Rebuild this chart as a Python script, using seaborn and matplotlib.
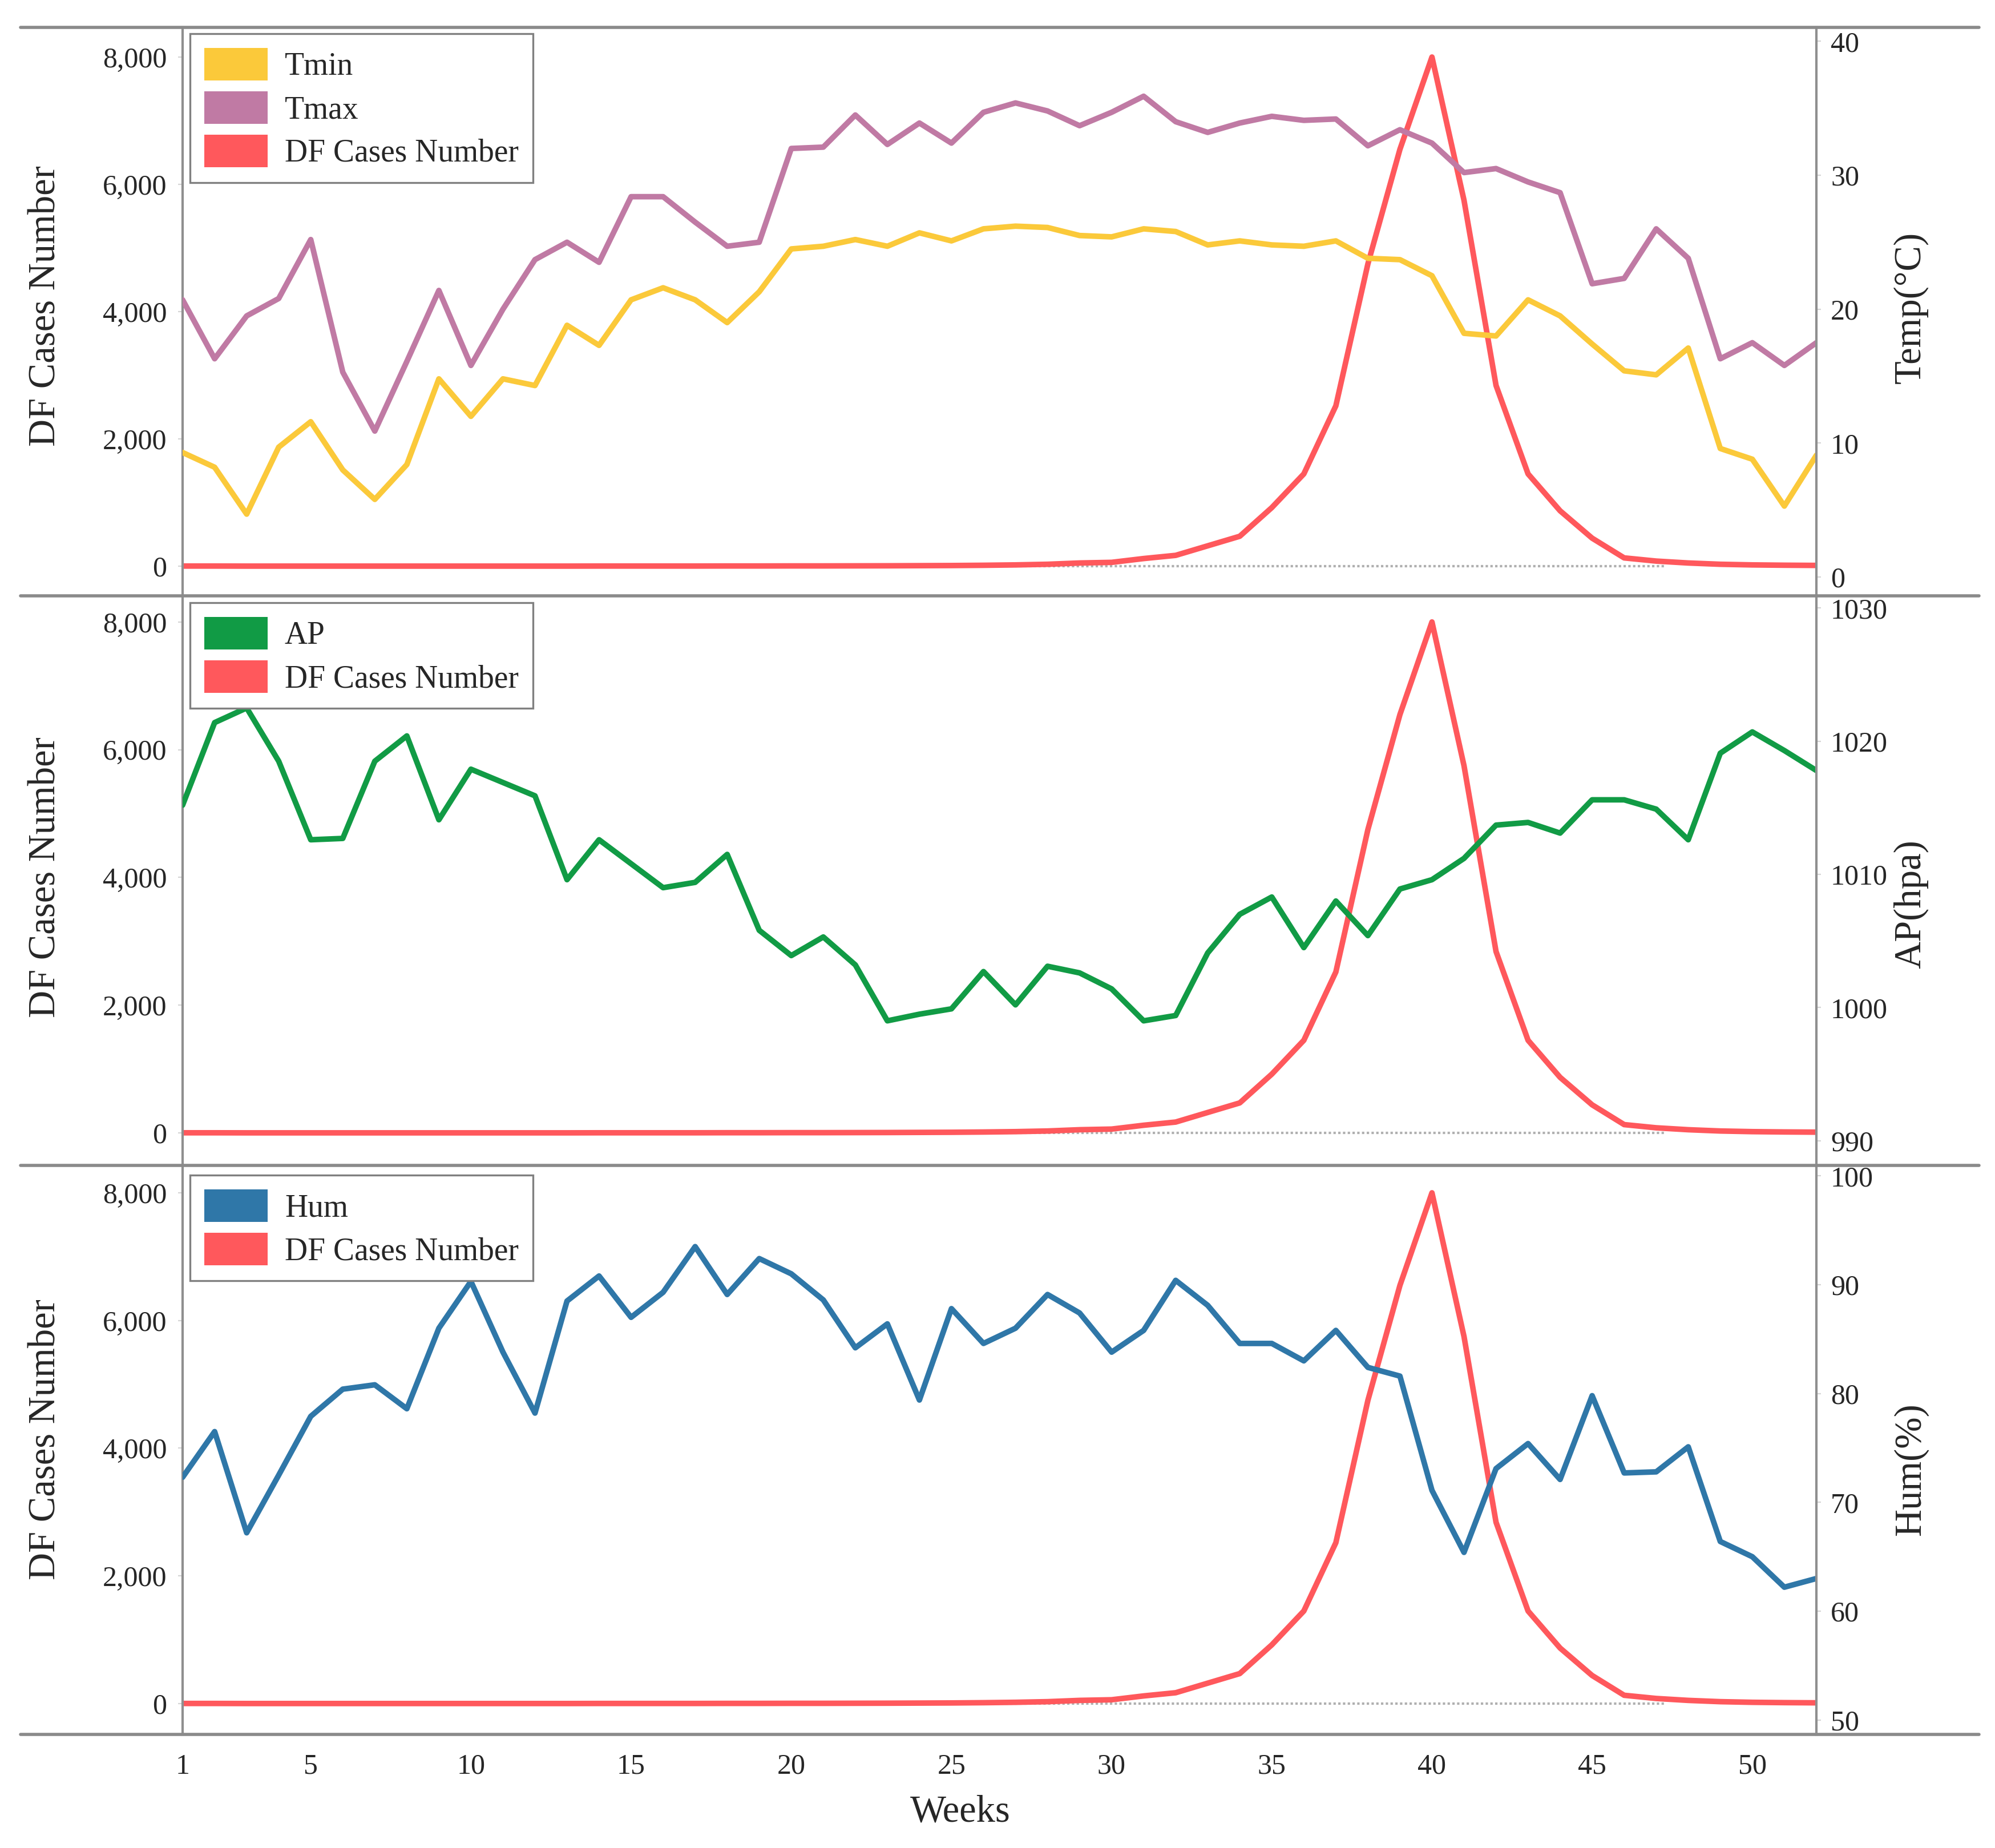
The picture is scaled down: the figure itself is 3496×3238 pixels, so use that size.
import matplotlib
matplotlib.use("Agg")
import matplotlib.pyplot as plt
import seaborn as sns
from matplotlib.patches import Patch
from matplotlib.lines import Line2D
from matplotlib.ticker import FuncFormatter

sns.set_style("white")
plt.rcParams['font.family'] = ['Liberation Serif', 'DejaVu Serif']

# weekly data
weeks = list(range(1, 53))
df_cases = [2, 2, 1, 1, 1, 1, 1, 1, 1, 1, 1, 1, 1, 2, 2, 2, 2, 3, 3, 4,
            4, 5, 6, 8, 10, 14, 20, 30, 50, 60, 120, 170, 320, 470, 920, 1450,
            2520, 4750, 6550, 8000, 5750, 2840, 1450, 870, 440, 130, 80, 50, 30, 20,
            15, 12]
tmin = [9.3, 8.2, 4.7, 9.7, 11.6, 8.0, 5.8, 8.4, 14.8, 12.0, 14.8, 14.3, 18.8,
        17.3, 20.7, 21.6, 20.7, 19.0, 21.3, 24.5, 24.7, 25.2, 24.7, 25.7, 25.1,
        26.0, 26.2, 26.1, 25.5, 25.4, 26.0, 25.8, 24.8, 25.1, 24.8, 24.7, 25.1,
        23.8, 23.7, 22.5, 18.2, 18.0, 20.7, 19.5, 17.4, 15.4, 15.1, 17.1, 9.6,
        8.8, 5.3, 9.1]
tmax = [20.7, 16.3, 19.5, 20.8, 25.2, 15.3, 10.9, 16.1, 21.4, 15.8, 20.0, 23.7,
        25.0, 23.5, 28.4, 28.4, 26.5, 24.7, 25.0, 32.0, 32.1, 34.5, 32.3, 33.9,
        32.4, 34.7, 35.4, 34.8, 33.7, 34.7, 35.9, 34.0, 33.2, 33.9, 34.4, 34.1,
        34.2, 32.2, 33.4, 32.4, 30.2, 30.5, 29.5, 28.7, 21.9, 22.3, 26.0, 23.8,
        16.3, 17.5, 15.8, 17.5]
ap = [1015.2, 1021.4, 1022.5, 1018.5, 1012.6, 1012.7, 1018.5, 1020.4, 1014.1,
      1017.9, 1016.9, 1015.9, 1009.6, 1012.6, 1010.8, 1009.0, 1009.4, 1011.5,
      1005.8, 1003.9, 1005.3, 1003.2, 999.0, 999.5, 999.9, 1002.7, 1000.2,
      1003.1, 1002.6, 1001.4, 999.0, 999.4, 1004.1, 1007.0, 1008.3, 1004.5,
      1008.0, 1005.4, 1008.9, 1009.6, 1011.2, 1013.7, 1013.9, 1013.1, 1015.6,
      1015.6, 1014.9, 1012.6, 1019.1, 1020.7, 1019.3, 1017.8]
hum = [72.3, 76.5, 67.2, 72.5, 77.9, 80.4, 80.8, 78.6, 86.0, 90.3, 83.8, 78.2,
       88.5, 90.8, 87.0, 89.3, 93.5, 89.1, 92.4, 91.0, 88.6, 84.2, 86.4, 79.4,
       87.8, 84.6, 86.0, 89.1, 87.4, 83.8, 85.8, 90.4, 88.1, 84.6, 84.6, 83.0,
       85.8, 82.4, 81.6, 71.1, 65.4, 73.1, 75.4, 72.1, 79.8, 72.7, 72.8, 75.1,
       66.4, 65.0, 62.2, 63.0]

week_ticks = [1, 5, 10, 15, 20, 25, 30, 35, 40, 45, 50]
case_ticks = [0, 2000, 4000, 6000, 8000]

c_red = '#FF585C'
c_tmin = '#FBC93A'
c_tmax = '#C07AA4'
c_ap = '#119B45'
c_hum = '#2F77A8'
axis_gray = '#8f8f8f'

panels = [
    dict(series=[("Tmin", tmin, c_tmin), ("Tmax", tmax, c_tmax)],
         rlabel="Temp(°C)", rticks=[0, 10, 20, 30, 40], rlim=(-1.40, 41.04),
         llim=(-466, 8466), bottom=0.67758, height=0.3076,
         leg_y=0.989, llab_y=0.51, rlab_y=0.507),
    dict(series=[("AP", ap, c_ap)],
         rlabel="AP(hpa)", rticks=[990, 1000, 1010, 1020, 1030], rlim=(988.14, 1030.92),
         llim=(-509, 8409), bottom=0.36936, height=0.30822,
         leg_y=0.988, llab_y=0.506, rlab_y=0.459),
    dict(series=[("Hum", hum, c_hum)],
         rlabel="Hum(%)", rticks=[50, 60, 70, 80, 90, 100], rlim=(48.67, 100.96),
         llim=(-483, 8429), bottom=0.06146, height=0.3079,
         leg_y=0.983, llab_y=0.518, rlab_y=0.466),
]

fig = plt.figure(figsize=(17.48, 16.19), dpi=200)
left, width = 0.09153, 0.81894

for i, p in enumerate(panels):
    ax = fig.add_axes([left, p["bottom"], width, p["height"]])
    ax.hlines(0, 1, 47.3, colors='#b0b0b0', linestyles=(0, (1, 1)), linewidth=1.5, zorder=1)
    sns.lineplot(x=weeks, y=df_cases, ax=ax, color=c_red, linewidth=3.5, zorder=2)
    ax.set_xlim(1, 52)
    ax.set_ylim(*p["llim"])
    ax.set_yticks(case_ticks)
    ax.yaxis.set_major_formatter(FuncFormatter(lambda v, pos: f"{int(v):,}"))
    ax.tick_params(axis='y', length=3, color='#d5d5d5', pad=7, labelsize=18)
    ax.set_ylabel("DF Cases Number", fontsize=24)
    ax.yaxis.set_label_coords(-0.073, p["llab_y"])
    for s in ['top', 'bottom', 'right']:
        ax.spines[s].set_visible(False)
    ax.spines['left'].set_color(axis_gray)
    ax.spines['left'].set_linewidth(1.5)

    if i == 2:
        ax.set_xticks(week_ticks)
        ax.set_xticks(weeks, minor=True)
        ax.tick_params(axis='x', which='major', length=5, color='#d8d8d8', pad=7, labelsize=18)
        ax.tick_params(axis='x', which='minor', length=3, color='#e2e2e2')
        ax.set_xlabel("Weeks", fontsize=24)
        ax.xaxis.set_label_coords(0.476, -0.106)
    else:
        ax.tick_params(axis='x', bottom=False, labelbottom=False)
        ax.set_xlabel("")

    ax2 = ax.twinx()
    handles = []
    for name, vals, col in p["series"]:
        sns.lineplot(x=weeks, y=vals, ax=ax2, color=col, linewidth=3.5)
        handles.append(Patch(facecolor=col, edgecolor='none', label=name))
    handles.append(Patch(facecolor=c_red, edgecolor='none', label="DF Cases Number"))
    ax2.set_xlim(1, 52)
    ax2.set_ylim(*p["rlim"])
    ax2.set_yticks(p["rticks"])
    ax2.tick_params(axis='y', length=3, color='#d5d5d5', pad=6, labelsize=18)
    ax2.set_ylabel(p["rlabel"], fontsize=24)
    ax2.yaxis.set_label_coords(1.047, p["rlab_y"])
    for s in ['top', 'bottom', 'left']:
        ax2.spines[s].set_visible(False)
    ax2.spines['right'].set_color(axis_gray)
    ax2.spines['right'].set_linewidth(1.5)

    leg = ax2.legend(handles=handles, loc='upper left', bbox_to_anchor=(0.0045, p["leg_y"]),
                     borderaxespad=0, fontsize=20, frameon=True, fancybox=False,
                     framealpha=1, edgecolor='#808080', handlelength=2.0,
                     handleheight=1.2, handletextpad=0.54, labelspacing=0.3,
                     borderpad=0.45)
    leg.get_frame().set_linewidth(1.2)

# panel separators running past the axes
for y in [0.98518, 0.67758, 0.36936, 0.06146]:
    fig.add_artist(Line2D([0.0103, 0.992], [y, y], transform=fig.transFigure,
                          color='#8a8a8a', linewidth=2))

fig.savefig("out.png", dpi=200, facecolor='white')
